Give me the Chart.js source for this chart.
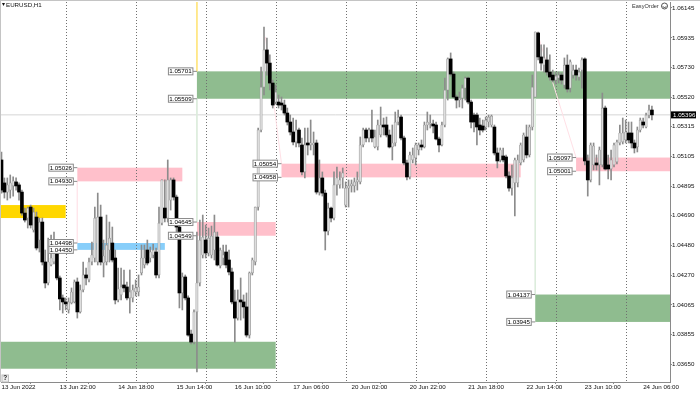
<!DOCTYPE html>
<html>
<head>
<meta charset="utf-8">
<title>EURUSD,H1</title>
<script src="https://cdn.jsdelivr.net/npm/chart.js@4/dist/chart.umd.min.js"></script>
<style>
  html, body { margin: 0; padding: 0; background: #fff; }
  canvas { display: block; }
</style>
</head>
<body>
<canvas id="chart" width="700" height="393"></canvas>
<script>
'use strict';

const opens = [
  1.05080,1.04919,1.04855,1.04869,1.04898,1.04926,1.04905,1.04855,1.04708,1.04673,
  1.04750,1.04589,1.04680,1.04519,1.04645,1.04365,1.04218,1.04344,1.04365,1.04449,
  1.04253,1.04113,1.04085,1.04029,1.04078,1.04085,1.04225,1.04015,1.04169,1.04274,
  1.04239,1.04365,1.04393,1.04365,1.04680,1.04358,1.04365,1.04449,1.04498,1.04393,
  1.04099,1.04134,1.04204,1.04190,1.04113,1.04113,1.04155,1.04155,1.04288,1.04344,
  1.04449,1.04393,1.04414,1.04435,1.04274,1.04638,1.04743,1.04673,1.04799,1.04940,
  1.04820,1.04610,1.04148,1.04260,1.04113,1.03860,1.03804,1.04015,1.04218,1.04414,
  1.04519,1.04428,1.04414,1.04449,1.04540,1.04337,1.04393,1.04435,1.04379,1.04295,
  1.04085,1.03972,1.04099,1.04085,1.04050,1.03853,1.04288,1.04365,1.04750,1.05290,
  1.05591,1.05851,1.05759,1.05619,1.05486,1.05486,1.05479,1.05465,1.05409,1.05346,
  1.05276,1.05206,1.05290,1.05185,1.04996,1.05199,1.05185,1.05185,1.05199,1.04855,
  1.04954,1.04848,1.04582,1.04743,1.04673,1.04905,1.04905,1.04954,1.04764,1.04883,
  1.04898,1.04898,1.04926,1.04926,1.05185,1.05290,1.05234,1.05290,1.05171,1.05171,
  1.05255,1.05325,1.05325,1.05255,1.05171,1.05199,1.05346,1.05381,1.05234,1.05059,
  1.04961,1.05080,1.05094,1.05150,1.05185,1.05171,1.05325,1.05332,1.05332,1.05325,
  1.05227,1.05185,1.05325,1.05570,1.05788,1.05682,1.05521,1.05500,1.05514,1.05584,
  1.05654,1.05486,1.05395,1.05395,1.05325,1.05318,1.05311,1.05346,1.05325,1.05311,
  1.05129,1.05080,1.05108,1.05101,1.04968,1.04883,1.04919,1.04919,1.05059,1.05080,
  1.05241,1.05115,1.05311,1.05521,1.05970,1.05802,1.05745,1.05781,1.05696,1.05675,
  1.05640,1.05654,1.05675,1.05605,1.05745,1.05584,1.05675,1.05710,1.05661,1.05710,
  1.05788,1.05073,1.04940,1.05045,1.05059,1.05045,1.05045,1.05444,1.05045,1.05017,
  1.05045,1.05066,1.05199,1.05206,1.05220,1.05269,1.05269,1.05199,1.05171,1.05290,
  1.05346,1.05311,1.05395,1.05430
];
const closes = [
  1.04869,1.04855,1.04905,1.04919,1.04933,1.04898,1.04855,1.04708,1.04659,1.04743,
  1.04624,1.04715,1.04463,1.04645,1.04365,1.04218,1.04365,1.04393,1.04449,1.04253,
  1.04106,1.04085,1.04071,1.04085,1.04155,1.04225,1.04015,1.04169,1.04274,1.04253,
  1.04365,1.04414,1.04673,1.04680,1.04365,1.04407,1.04484,1.04533,1.04379,1.04099,
  1.04176,1.04190,1.04183,1.04113,1.04155,1.04169,1.04183,1.04190,1.04393,1.04393,
  1.04358,1.04435,1.04449,1.04274,1.04638,1.04940,1.04673,1.04940,1.04940,1.04820,
  1.04610,1.04148,1.04260,1.04113,1.03853,1.03804,1.04015,1.04218,1.04519,1.04540,
  1.04428,1.04533,1.04547,1.04575,1.04344,1.04449,1.04414,1.04344,1.04295,1.04085,
  1.03972,1.04099,1.04085,1.04050,1.03853,1.04288,1.04379,1.04750,1.05290,1.05591,
  1.05851,1.05759,1.05619,1.05465,1.05556,1.05465,1.05465,1.05409,1.05346,1.05276,
  1.05206,1.05290,1.05199,1.04996,1.05185,1.05185,1.05199,1.05199,1.04855,1.04954,
  1.04848,1.04582,1.04743,1.04673,1.04905,1.04954,1.04940,1.04989,1.04883,1.04898,
  1.04912,1.04926,1.04940,1.05185,1.05290,1.05234,1.05290,1.05234,1.05241,1.05325,
  1.05325,1.05311,1.05255,1.05171,1.05199,1.05346,1.05381,1.05234,1.05059,1.04961,
  1.05115,1.05115,1.05185,1.05185,1.05171,1.05325,1.05346,1.05339,1.05318,1.05227,
  1.05185,1.05325,1.05570,1.05788,1.05682,1.05521,1.05500,1.05514,1.05584,1.05654,
  1.05486,1.05346,1.05346,1.05311,1.05290,1.05290,1.05360,1.05381,1.05388,1.05129,
  1.05073,1.05150,1.05080,1.04968,1.04883,1.04954,1.05080,1.05080,1.05185,1.05255,
  1.05115,1.05311,1.05591,1.05977,1.05802,1.05759,1.05795,1.05696,1.05661,1.05640,
  1.05668,1.05675,1.05640,1.05745,1.05577,1.05767,1.05710,1.05675,1.05696,1.05781,
  1.05073,1.04940,1.05185,1.05178,1.05045,1.05150,1.05444,1.05017,1.05017,1.05080,
  1.05185,1.05206,1.05269,1.05269,1.05276,1.05220,1.05199,1.05164,1.05290,1.05360,
  1.05325,1.05395,1.05430,1.05396
];
const highs = [
  1.05136,1.04954,1.04954,1.04975,1.04961,1.04954,1.04919,1.04869,1.04743,1.04750,
  1.04764,1.04743,1.04715,1.04673,1.04673,1.04449,1.04533,1.04554,1.04575,1.04519,
  1.04267,1.04134,1.04113,1.04113,1.04183,1.04239,1.04253,1.04204,1.04365,1.04323,
  1.04393,1.04505,1.04750,1.04848,1.04764,1.04519,1.04694,1.04645,1.04610,1.04449,
  1.04323,1.04323,1.04309,1.04225,1.04309,1.04204,1.04239,1.04274,1.04484,1.04484,
  1.04519,1.04470,1.04491,1.04463,1.04750,1.04940,1.04940,1.05080,1.04954,1.04954,
  1.04834,1.04624,1.04288,1.04274,1.04127,1.03888,1.04029,1.04575,1.04659,1.04694,
  1.04624,1.04603,1.04617,1.04694,1.04575,1.04463,1.04484,1.04484,1.04449,1.04323,
  1.04169,1.04169,1.04253,1.04134,1.04148,1.04295,1.04393,1.04750,1.05304,1.05731,
  1.06012,1.05935,1.05816,1.05640,1.05605,1.05535,1.05521,1.05500,1.05444,1.05395,
  1.05374,1.05360,1.05304,1.05234,1.05304,1.05304,1.05360,1.05276,1.05220,1.05080,
  1.04996,1.04869,1.04778,1.04750,1.04996,1.05031,1.04996,1.05024,1.04926,1.04940,
  1.04940,1.04954,1.04996,1.05241,1.05304,1.05304,1.05304,1.05430,1.05290,1.05360,
  1.05451,1.05374,1.05381,1.05290,1.05325,1.05416,1.05430,1.05395,1.05248,1.05080,
  1.05136,1.05164,1.05199,1.05199,1.05220,1.05346,1.05416,1.05395,1.05360,1.05346,
  1.05241,1.05346,1.05654,1.05795,1.05830,1.05696,1.05535,1.05556,1.05605,1.05661,
  1.05661,1.05500,1.05409,1.05409,1.05374,1.05360,1.05381,1.05395,1.05395,1.05325,
  1.05164,1.05164,1.05164,1.05115,1.04996,1.05045,1.05094,1.05115,1.05199,1.05269,
  1.05325,1.05325,1.05675,1.05977,1.05977,1.05886,1.05886,1.05865,1.05816,1.05710,
  1.05696,1.05696,1.05689,1.05795,1.05816,1.05781,1.05745,1.05745,1.05724,1.05795,
  1.05795,1.05115,1.05199,1.05199,1.05115,1.05171,1.05549,1.05458,1.05115,1.05150,
  1.05199,1.05220,1.05325,1.05374,1.05360,1.05346,1.05346,1.05220,1.05311,1.05374,
  1.05374,1.05409,1.05465,1.05458
];
const lows = [
  1.04848,1.04813,1.04799,1.04813,1.04827,1.04869,1.04799,1.04694,1.04645,1.04603,
  1.04603,1.04575,1.04449,1.04435,1.04344,1.04183,1.04204,1.04337,1.04351,1.04239,
  1.04029,1.04007,1.04029,1.04007,1.04071,1.04078,1.03972,1.04007,1.04155,1.04204,
  1.04225,1.04344,1.04365,1.04344,1.04344,1.04260,1.04344,1.04365,1.04365,1.04071,
  1.04085,1.04099,1.04155,1.04099,1.04007,1.04085,1.04127,1.04127,1.04274,1.04323,
  1.04344,1.04365,1.04393,1.04253,1.04253,1.04624,1.04645,1.04645,1.04729,1.04799,
  1.04575,1.04043,1.04029,1.04099,1.03846,1.03790,1.03790,1.03594,1.04197,1.04393,
  1.04393,1.04407,1.04393,1.04379,1.04337,1.04323,1.04344,1.04323,1.04274,1.04071,
  1.03804,1.03958,1.03958,1.03972,1.03839,1.03832,1.04274,1.04344,1.04729,1.05276,
  1.05535,1.05675,1.05570,1.05444,1.05472,1.05444,1.05430,1.05395,1.05325,1.05255,
  1.05185,1.05171,1.05171,1.04975,1.04954,1.05115,1.05150,1.05115,1.04841,1.04834,
  1.04827,1.04449,1.04554,1.04645,1.04659,1.04834,1.04883,1.04883,1.04750,1.04750,
  1.04855,1.04855,1.04869,1.04912,1.05171,1.05206,1.05206,1.05206,1.05164,1.05150,
  1.05241,1.05255,1.05241,1.05164,1.05080,1.05178,1.05325,1.05220,1.05045,1.04940,
  1.04947,1.05059,1.05045,1.05115,1.05150,1.05164,1.05290,1.05304,1.05269,1.05220,
  1.05136,1.05178,1.05311,1.05500,1.05668,1.05514,1.05444,1.05451,1.05444,1.05500,
  1.05472,1.05304,1.05276,1.05185,1.05255,1.05276,1.05290,1.05311,1.05311,1.05115,
  1.05024,1.05066,1.05066,1.04954,1.04862,1.04834,1.04687,1.04891,1.05045,1.05066,
  1.05094,1.05101,1.05290,1.05521,1.05781,1.05710,1.05696,1.05675,1.05640,1.05626,
  1.05612,1.05619,1.05612,1.05584,1.05556,1.05556,1.05654,1.05640,1.05640,1.05584,
  1.05045,1.04827,1.04926,1.05010,1.05010,1.04905,1.05031,1.05010,1.04947,1.04940,
  1.05031,1.05052,1.05185,1.05192,1.05199,1.05199,1.05164,1.05129,1.05136,1.05276,
  1.05304,1.05304,1.05374,1.05360
];

const timeLabels = [
  '13 Jun 2022', '13 Jun 22:00', '14 Jun 18:00', '15 Jun 14:00', '16 Jun 10:00', '17 Jun 06:00',
  '20 Jun 02:00', '20 Jun 22:00', '21 Jun 18:00', '22 Jun 14:00', '23 Jun 10:00', '24 Jun 06:00'
];
const labelBars = [0, 20, 40, 60, 80, 100, 120, 140, 160, 180, 200, 220];
const dayBars = [22, 46, 70, 94, 118, 142, 166, 190, 214];
const priceTicks = [
  1.06145, 1.05935, 1.05730, 1.05520, 1.05315, 1.05105, 1.04895,
  1.04690, 1.04480, 1.04270, 1.04065, 1.03855, 1.03650
];
const lastPrice = 1.05396;

// zones, bar index from/to and price top/bottom
const zoneFrom = [-1, 26, 26, -1, 67, 67, 96, 197, 183];
const zoneTo = [22, 62, 56, 94, 230, 94, 178, 230, 230];
const zoneTop = [1.04764, 1.05026, 1.04498, 1.03806, 1.05701, 1.04645, 1.05054, 1.05097, 1.04137];
const zoneBottom = [1.04673, 1.04930, 1.04450, 1.03617, 1.05509, 1.04549, 1.04958, 1.05001, 1.03945];
const zoneColors = ['#ffd700', '#ffc0cb', '#87cefa', '#8fbc8f', '#8fbc8f', '#ffc0cb', '#ffc0cb', '#ffc0cb', '#8fbc8f'];
const zoneHasLabels = [false, true, true, false, true, true, true, true, true];

// faint connector lines
const goldLine = [{ x: 67, y: 1.06187 }, { x: 67, y: 1.05701 }];
const greenLineA = [{ x: 67, y: 1.05509 }, { x: 67, y: 1.04645 }];
const greenLineB = [{ x: 183, y: 1.05509 }, { x: 183, y: 1.04137 }];
const pinkLineA = [{ x: 26, y: 1.04930 }, { x: 26, y: 1.04498 }];
const pinkLineB = [{ x: 90.5, y: 1.05942 }, { x: 96, y: 1.05054 }];
const pinkLineC = [{ x: 183.6, y: 1.05977 }, { x: 197, y: 1.05097 }];

const AXIS_COLOR = '#8a8a8a';
const FONT = "'Liberation Sans', sans-serif";

const barIndex = opens.map(function (o, i) { return i; });
const wicks = barIndex.map(function (i) { return { x: i, y: [lows[i], highs[i]] }; });
const upBodies = barIndex.filter(function (i) { return closes[i] >= opens[i]; })
  .map(function (i) { return { x: i, y: [opens[i], closes[i]] }; });
const downBodies = barIndex.filter(function (i) { return closes[i] < opens[i]; })
  .map(function (i) { return { x: i, y: [opens[i], closes[i]] }; });

function lineSet(points, color, order) {
  return {
    type: 'line', data: points, borderColor: color, borderWidth: 1,
    pointRadius: 0, order: order, tension: 0, parsing: { xAxisKey: 'x', yAxisKey: 'y' }
  };
}

const chartFrame = {
  id: 'chartFrame',
  beforeDraw: function (chart) {
    const ctx = chart.ctx;
    ctx.save();
    ctx.fillStyle = '#fff';
    ctx.fillRect(0, 0, chart.width, chart.height);
    ctx.fillStyle = '#c4c4c4';
    ctx.fillRect(0, 0, chart.width, 1);
    ctx.fillRect(0, 0, 1, 382);
    ctx.restore();
  },
  beforeDatasetsDraw: function (chart) {
    const ctx = chart.ctx;
    const xs = chart.scales.x;
    const ys = chart.scales.y;
    const area = chart.chartArea;

    ctx.save();
    ctx.beginPath();
    ctx.rect(area.left, area.top, area.right - area.left, area.bottom - area.top);
    ctx.clip();

    zoneFrom.forEach(function (from, i) {
      const x0 = xs.getPixelForValue(from);
      const x1 = xs.getPixelForValue(zoneTo[i]);
      const y0 = ys.getPixelForValue(zoneTop[i]);
      const y1 = ys.getPixelForValue(zoneBottom[i]);
      ctx.fillStyle = zoneColors[i];
      ctx.fillRect(x0, y0, x1 - x0, y1 - y0);
    });

    // day separators
    ctx.strokeStyle = '#707070';
    ctx.lineWidth = 1;
    ctx.setLineDash([1, 2]);
    dayBars.forEach(function (bar) {
      const x = Math.round(xs.getPixelForValue(bar)) + 0.5;
      ctx.beginPath();
      ctx.moveTo(x, area.top);
      ctx.lineTo(x, area.bottom);
      ctx.stroke();
    });
    ctx.restore();
  },
  afterDraw: function (chart) {
    const ctx = chart.ctx;
    const xs = chart.scales.x;
    const ys = chart.scales.y;

    ctx.save();
    ctx.font = '6.2px ' + FONT;
    ctx.textBaseline = 'middle';

    // price boxes next to each zone
    zoneFrom.forEach(function (from, i) {
      if (!zoneHasLabels[i]) return;
      const right = xs.getPixelForValue(from);
      [zoneTop[i], zoneBottom[i]].forEach(function (price) {
        const y = ys.getPixelForValue(price);
        ctx.strokeStyle = AXIS_COLOR;
        ctx.beginPath();
        ctx.moveTo(right - 4, y);
        ctx.lineTo(right, y);
        ctx.stroke();
        ctx.fillStyle = '#fff';
        ctx.fillRect(right - 29, y - 3.5, 25, 7);
        ctx.strokeRect(right - 28.5, y - 3.5, 24.5, 7);
        ctx.fillStyle = '#000';
        ctx.textAlign = 'center';
        ctx.fillText(price.toFixed(5), right - 16.5, y + 0.3);
      });
    });

    // last price tag
    const tagY = ys.getPixelForValue(lastPrice);
    ctx.fillStyle = '#000';
    ctx.fillRect(671, tagY - 3.5, 25, 7);
    ctx.fillStyle = '#fff';
    ctx.textAlign = 'left';
    ctx.fillText(lastPrice.toFixed(5), 673, tagY + 0.3);

    // chart title and panel text
    ctx.fillStyle = '#111';
    ctx.fillText('EURUSD,H1', 6, 5);
    ctx.beginPath();
    ctx.moveTo(2, 3);
    ctx.lineTo(5, 3);
    ctx.lineTo(3.5, 6);
    ctx.closePath();
    ctx.fill();

    ctx.font = '5.6px ' + FONT;
    ctx.fillStyle = '#333';
    ctx.fillText('EasyOrder', 632, 6);
    ctx.strokeStyle = '#555';
    ctx.beginPath();
    ctx.arc(664.5, 6, 3, 0, Math.PI * 2);
    ctx.stroke();
    ctx.beginPath();
    ctx.arc(664.5, 6, 1.6, 0.2, Math.PI - 0.2);
    ctx.stroke();

    // help button
    ctx.fillStyle = '#efefef';
    ctx.fillRect(2, 375, 6.5, 7);
    ctx.strokeStyle = '#bdbdbd';
    ctx.strokeRect(2, 375, 6.5, 7);
    ctx.fillStyle = '#222';
    ctx.font = 'bold 6.5px ' + FONT;
    ctx.textAlign = 'center';
    ctx.fillText('?', 5.3, 378.7);
    ctx.restore();
  }
};

new Chart(document.getElementById('chart'), {
  type: 'bar',
  data: {
    datasets: [
      lineSet([{ x: -1, y: lastPrice }, { x: 230, y: lastPrice }], '#d6d6d6', 5),
      lineSet(goldLine, '#ffe680', 4),
      lineSet(greenLineA, '#dcecdc', 4),
      lineSet(greenLineB, '#dcecdc', 4),
      lineSet(pinkLineA, '#ffe6eb', 4),
      lineSet(pinkLineB, '#ffe0e6', 4),
      lineSet(pinkLineC, '#ffe0e6', 4),
      {
        data: wicks,
        barThickness: 1,
        backgroundColor: '#8c8c8c',
        grouped: false,
        order: 3
      },
      {
        data: upBodies,
        barThickness: 2.4,
        backgroundColor: '#dedede',
        borderColor: '#9a9a9a',
        borderWidth: 0.7,
        borderSkipped: false,
        grouped: false,
        order: 2
      },
      {
        data: downBodies,
        barThickness: 3,
        backgroundColor: '#000',
        grouped: false,
        order: 1
      }
    ]
  },
  options: {
    responsive: false,
    animation: false,
    layout: { padding: { left: 1, top: 2, right: 0, bottom: 0 } },
    plugins: { legend: { display: false }, tooltip: { enabled: false } },
    scales: {
      x: {
        type: 'linear',
        offset: false,
        min: -0.17,
        max: 229.2,
        afterFit: function (scale) {
          scale.height = 11;
          scale.paddingLeft = 0;
          scale.paddingRight = 0;
        },
        afterBuildTicks: function (scale) {
          scale.ticks = labelBars.map(function (v) { return { value: v }; });
        },
        grid: { display: true, drawOnChartArea: false, tickLength: 2, tickColor: AXIS_COLOR },
        border: { display: true, color: AXIS_COLOR },
        ticks: {
          autoSkip: false,
          maxRotation: 0,
          align: 'start',
          padding: 0,
          color: '#111',
          font: { family: FONT, size: 6.2 },
          callback: function (value) { return timeLabels[labelBars.indexOf(value)]; }
        }
      },
      y: {
        position: 'right',
        min: 1.03524,
        max: 1.06187,
        afterFit: function (scale) {
          scale.width = 30;
          scale.paddingTop = 0;
          scale.paddingBottom = 0;
        },
        afterBuildTicks: function (scale) {
          scale.ticks = priceTicks.map(function (v) { return { value: v }; });
        },
        grid: { display: true, drawOnChartArea: false, tickLength: 2, tickColor: AXIS_COLOR },
        border: { display: true, color: AXIS_COLOR },
        ticks: {
          autoSkip: false,
          padding: 0,
          color: '#111',
          font: { family: FONT, size: 6.2 },
          callback: function (value) { return value.toFixed(5); }
        }
      }
    }
  },
  plugins: [chartFrame]
});
</script>
</body>
</html>
